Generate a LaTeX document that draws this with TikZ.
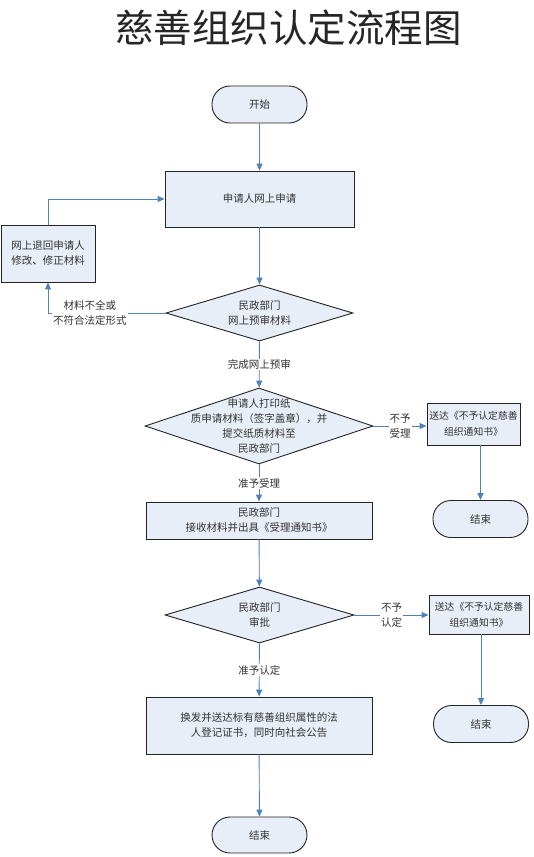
\documentclass[tikz,border=0pt]{standalone}
\usepackage{fontspec}
\setmainfont{Noto Sans CJK SC}
\usetikzlibrary{arrows.meta,shapes.geometric,calc}
\definecolor{boxfill}{RGB}{232,238,247}
\definecolor{arrowblue}{RGB}{79,129,189}
\definecolor{edgecol}{RGB}{35,35,35}
\definecolor{txt}{RGB}{50,50,50}
\begin{document}
\begin{tikzpicture}[x=1pt,y=-1pt,
 base/.style={draw=edgecol, line width=0.9pt, fill=boxfill, inner sep=0pt, text=txt,
   font=\fontsize{10.5}{15}\selectfont, align=center},
 procbox/.style={base, rectangle},
 termbox/.style={base, rectangle, rounded corners=18pt, minimum width=95pt, minimum height=37pt},
 decbox/.style={base, diamond},
 inlbl/.style={align=center, text=txt, font=\fontsize{10.5}{15}\selectfont},
 arr/.style={draw=arrowblue, line width=0.9pt, -{Triangle[width=6pt,length=7pt]}},
 lbl/.style={fill=white, inner sep=1pt, text=txt, font=\fontsize{10.5}{15}\selectfont, align=center}
]
\useasboundingbox (0,0) rectangle (534,857);
\fill[white] (0,0) rectangle (534,857);

\node[font=\fontsize{38.5}{40}\selectfont, text=black!85] (title) at (288.5,28) {慈善组织认定流程图};

\node[termbox] (start) at (259.5,104.5) {开始};
\node[procbox, minimum width=189pt, minimum height=56pt] (apply) at (259.5,199) {申请人网上申请};
\node[procbox, minimum width=94pt, minimum height=57pt] (ret) at (48,253.5) {网上退回申请人\\修改、修正材料};
\node[decbox, minimum width=187pt, minimum height=56pt,
  label={[inlbl]center:民政部门\\网上预审材料}] (d1) at (259.5,313) {};
\node[decbox, minimum width=228pt, minimum height=76pt,
  label={[inlbl]center:申请人打印纸\\质申请材料（签字盖章），并\\提交纸质材料至\\民政部门}] (d2) at (259,426) {};
\node[procbox, minimum width=93pt, minimum height=42pt, font=\fontsize{9.8}{16}\selectfont] (r1) at (473.5,424) {送达《不予认定慈善\\组织通知书》};
\node[termbox] (e1) at (480.5,519) {结束};
\node[procbox, minimum width=226pt, minimum height=37pt] (b3) at (259,520.5) {民政部门\\接收材料并出具《受理通知书》};
\node[decbox, minimum width=189pt, minimum height=56pt,
  label={[inlbl]center:民政部门\\审批}] (d3) at (259.5,615) {};
\node[procbox, minimum width=100pt, minimum height=39pt, font=\fontsize{9.8}{16}\selectfont] (r2) at (479,614.5) {送达《不予认定慈善\\组织通知书》};
\node[termbox] (e2) at (481,724) {结束};
\node[procbox, minimum width=226pt, minimum height=57pt] (b4) at (259,725.5) {换发并送达标有慈善组织属性的法\\人登记证书，同时向社会公告};
\node[termbox, minimum height=36pt] (e3) at (259.5,835) {结束};

\draw[arr] (start) -- (apply);
\draw[arr] (apply) -- (d1);
\draw[arr] (d1.west) -- node[lbl, pos=0.644]{材料不全或\\不符合法定形式} (d1.west -| ret.south) -- (ret.south);
\draw[arr] (ret.north) |- (apply.west);
\draw[arr] (d1) -- node[lbl]{完成网上预审} (d2);
\draw[arr] (d2.east) -- node[lbl]{不予\\受理} (d2.east -| r1.west);
\draw[arr] (e1.north |- r1.south) -- (e1.north);
\draw[arr] (d2) -- node[lbl]{准予受理} (b3);
\draw[arr] (b3) -- (d3);
\draw[arr] (d3.east) -- node[lbl]{不予\\认定} (d3.east -| r2.west);
\draw[arr] (e2.north |- r2.south) -- (e2.north);
\draw[arr] (d3) -- node[lbl]{准予认定} (b4);
\draw[arr] (b4) -- (e3);
\end{tikzpicture}
\end{document}
